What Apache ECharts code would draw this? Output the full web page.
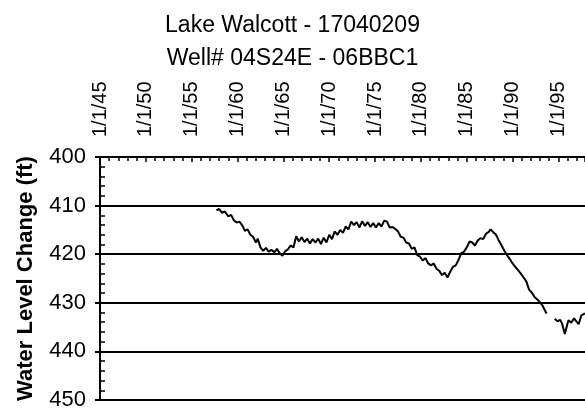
<!DOCTYPE html>
<html><head><meta charset="utf-8">
<script src="https://cdn.jsdelivr.net/npm/echarts@6/dist/echarts.min.js"></script>
<style>html,body{margin:0;padding:0;background:#fff}#c{width:585px;height:411px}</style>
</head><body><div id="c"></div>
<script>
var titleLines = ['Lake Walcott - 17040209', 'Well# 04S24E - 06BBC1'];
var yAxisName = 'Water Level Change (ft)';
var yTicks = [400, 410, 420, 430, 440, 450];
var xTickYears = [1945, 1950, 1955, 1960, 1965, 1970, 1975, 1980, 1985, 1990, 1995];
var years = [1957.7,1958.0,1958.3,1958.6,1959.0,1959.3,1959.6,1959.9,1960.2,1960.5,1960.8,1961.1,1961.4,1961.7,1962.0,1962.2,1962.5,1962.8,1963.1,1963.4,1963.7,1964.0,1964.3,1964.6,1964.9,1965.2,1965.5,1965.8,1966.1,1966.4,1966.7,1967.0,1967.3,1967.6,1967.9,1968.2,1968.5,1968.8,1969.1,1969.4,1969.7,1970.0,1970.3,1970.6,1970.9,1971.2,1971.5,1971.8,1972.1,1972.4,1972.7,1973.0,1973.3,1973.6,1973.9,1974.2,1974.5,1974.8,1975.1,1975.4,1975.7,1976.0,1976.3,1976.6,1976.9,1977.2,1977.5,1977.8,1978.1,1978.4,1978.7,1979.0,1979.3,1979.6,1979.9,1980.2,1980.5,1980.8,1981.1,1981.4,1981.7,1982.0,1982.3,1982.6,1982.9,1983.2,1983.5,1983.8,1984.1,1984.4,1984.7,1985.0,1985.3,1985.6,1985.9,1986.2,1986.5,1986.8,1987.1,1987.4,1987.6,1987.9,1988.2,1988.5,1988.8,1989.1,1989.4,1989.7,1990.0,1990.3,1990.6,1990.9,1991.2,1991.5,1991.8,1992.1,1992.4,1992.7,1993.0,1993.3,1993.5,1993.7,1994.1,1994.6,1994.9,1995.2,1995.4,1995.7,1996.0,1996.1,1996.4,1996.7,1997.0,1997.2,1997.5,1997.9];
var levels = [411.0,410.7,411.5,411.2,412.2,411.9,413.0,413.5,413.3,414.0,415.2,414.9,416.0,416.4,417.6,416.8,418.6,419.3,418.7,419.5,419.1,419.6,418.9,419.8,420.3,419.4,419.0,418.2,418.6,416.3,417.4,416.5,417.5,416.8,417.8,416.9,417.6,416.8,417.9,416.6,417.6,416.0,416.9,415.3,416.0,415.0,415.6,414.3,414.9,413.3,414.0,413.4,414.5,413.2,414.2,413.4,414.4,413.6,414.5,413.6,414.3,413.1,413.3,414.5,414.4,414.8,415.3,416.4,416.6,417.6,417.8,418.9,418.6,420.2,420.5,421.3,420.8,421.9,422.3,421.9,423.0,423.4,424.3,423.8,424.8,423.6,422.6,422.3,421.2,419.8,419.5,418.6,417.4,417.6,418.2,417.2,416.7,416.9,415.8,415.4,414.9,415.5,416.0,417.2,418.2,419.3,420.2,421.0,421.9,422.6,423.3,424.0,424.8,425.6,427.3,427.9,428.8,429.3,429.9,430.7,430.6,432.2,null,433.3,433.8,433.5,434.3,436.4,434.2,433.6,434.1,433.2,433.9,434.4,432.6,432.2];

var FONT = 'Liberation Sans, Arial, sans-serif';
var data = years.map(function (y, i) { return [y, levels[i]]; });
var chart = echarts.init(document.getElementById('c'), null, {renderer: 'canvas'});
chart.setOption({
  animation: false,
  backgroundColor: '#fff',
  textStyle: {fontFamily: FONT, color: '#000'},
  title: {
    text: titleLines.join('\n'), left: 'center', top: 4,
    textStyle: {fontFamily: FONT, fontSize: 23, fontWeight: 'normal', color: '#000', lineHeight: 33}
  },
  grid: {left: 100, top: 157, right: 0, bottom: 9, containLabel: false},
  xAxis: {
    type: 'value', position: 'top', min: xTickYears[0], max: 1997.9, interval: 5,
    axisLine: {lineStyle: {color: '#000', width: 2}},
    axisTick: {show: true, inside: true, length: 5, lineStyle: {color: '#000', width: 1.5}},
    minorTick: {show: true, splitNumber: 5, length: 4, lineStyle: {color: '#000', width: 1.5}},
    splitLine: {show: false},
    axisLabel: {
      rotate: -90, fontSize: 20, color: '#000', fontFamily: FONT, margin: 20, showMaxLabel: false,
      formatter: function (v) {
        var r = Math.round(v);
        if (Math.abs(v - r) > 1e-6 || xTickYears.indexOf(r) < 0) return '';
        return '1/1/' + String(r % 100).padStart(2, '0');
      }
    }
  },
  yAxis: [{
    type: 'value', inverse: true, min: yTicks[0], max: yTicks[yTicks.length - 1], interval: 10,
    name: yAxisName, nameLocation: 'middle', nameGap: 63, nameRotate: 90,
    nameTextStyle: {fontFamily: FONT, fontSize: 22, fontWeight: 'bold', color: '#000'},
    axisLine: {show: true, lineStyle: {color: '#000', width: 2}},
    axisTick: {show: true, inside: false, length: 5, lineStyle: {color: '#000', width: 2}},
    splitLine: {show: true, lineStyle: {color: '#000', width: 2}},
    axisLabel: {fontSize: 22, color: '#000', fontFamily: FONT, margin: 14}
  }, {
    type: 'value', inverse: true, min: yTicks[0], max: yTicks[yTicks.length - 1], interval: 2,
    position: 'left', offset: 0,
    axisLine: {show: false},
    axisTick: {show: true, inside: true, length: 5, lineStyle: {color: '#000', width: 1.5}},
    splitLine: {show: false},
    axisLabel: {show: false}
  }],
  series: [{
    type: 'line', data: data, yAxisIndex: 0, showSymbol: false, symbol: 'none',
    connectNulls: false, lineStyle: {color: '#000', width: 2}
  }]
});
</script></body></html>
